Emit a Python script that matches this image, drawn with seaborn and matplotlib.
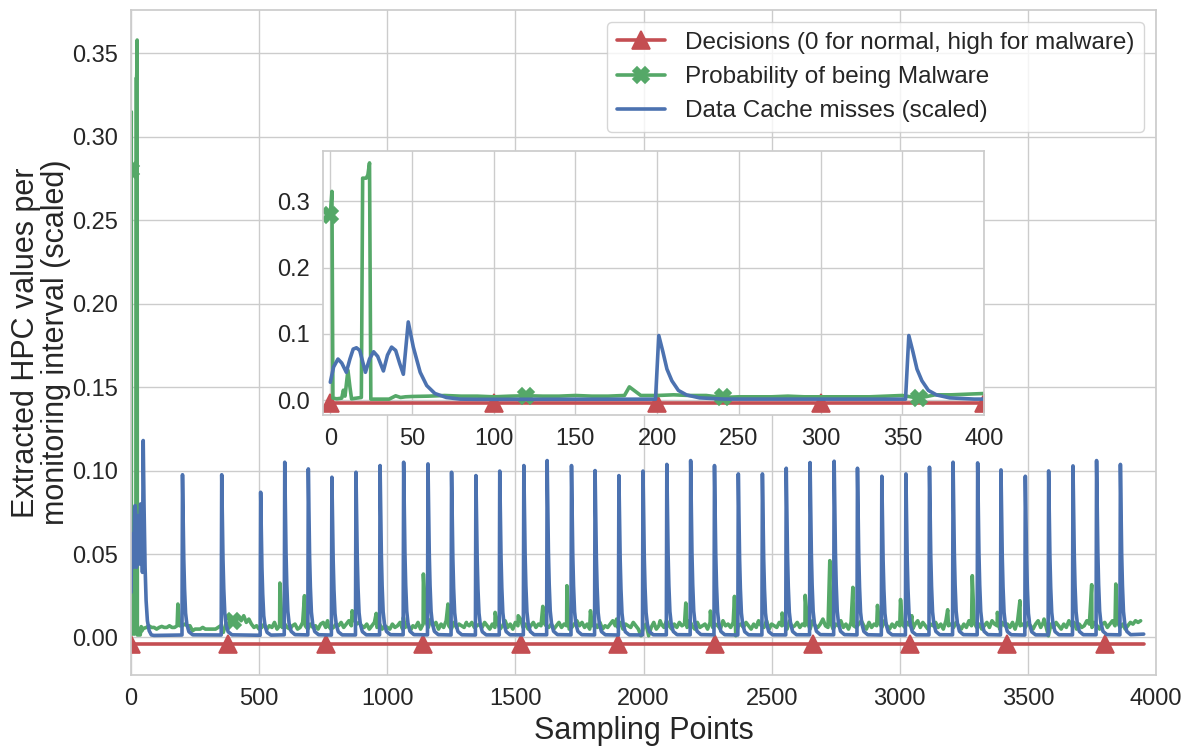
import numpy as np
import pandas as pd
import matplotlib
matplotlib.use("Agg")
import matplotlib.pyplot as plt
import seaborn as sns

# ---------------- data ----------------
# Decisions line (all "normal"), drawn slightly below zero
decision_x = list(range(0, 3941, 20)) + [3952]
decision_level = -0.004

# Data Cache misses: first samples
blue_start_x = [0, 2, 4.7, 7, 9.8, 12, 14, 16, 18, 21.5, 24, 26.5, 29, 32.5,
                35, 37.5, 40, 42.5, 44.7, 47.7, 50.8, 55, 59, 64, 71, 79.5, 90]
blue_start_y = [0.027, 0.050, 0.062, 0.056, 0.042, 0.062, 0.077, 0.079, 0.075,
                0.042, 0.062, 0.073, 0.066, 0.044, 0.068, 0.080, 0.075, 0.055,
                0.039, 0.118, 0.080, 0.042, 0.022, 0.010, 0.004, 0.0015, 0.0012]
# periodic cache-miss peaks (sample index, peak height)
blue_peak_x = [201, 354, 506, 600, 692, 784, 878, 972, 1064, 1159, 1251, 1346,
               1439, 1533, 1624, 1719, 1811, 1904, 1998, 2091, 2184, 2277, 2370,
               2464, 2557, 2650, 2744, 2835, 2930, 3024, 3116, 3208, 3304, 3395,
               3490, 3581, 3676, 3768, 3861]
blue_peak_y = [0.0975, 0.0975, 0.087, 0.105, 0.101, 0.096, 0.099, 0.103, 0.105,
               0.104, 0.099, 0.097, 0.0997, 0.103, 0.106, 0.103, 0.100, 0.097,
               0.0997, 0.1037, 0.106, 0.103, 0.098, 0.098, 0.1014, 0.1048,
               0.1056, 0.1014, 0.0966, 0.098, 0.102, 0.105, 0.1046, 0.1004,
               0.0966, 0.0998, 0.1028, 0.106, 0.1037]
# shape of one peak (offset from peak, fraction of height)
peak_offsets = [-2, 0, 2.5, 5, 8, 12, 17, 25, 40]
peak_shape = [0.015, 1.0, 0.75, 0.48, 0.30, 0.15, 0.08, 0.035, 0.016]
blue_floor = 0.0012
blue_end_x = [3952]
blue_end_y = [0.002]

# Probability of being malware: first 400 samples
green_early_x = [0, 1, 1.6, 4, 7, 8, 9, 10.8, 12, 13, 16, 19, 19.8, 22, 23, 24,
                 24.8, 30, 36, 40, 43, 46, 50, 60, 70, 80, 90, 100, 110, 120,
                 130, 140, 150, 160, 170, 180, 190, 200, 210, 220, 230, 240, 250,
                 260, 270, 280, 290, 300, 310, 320, 330, 340, 350, 360, 370, 380,
                 390, 400]
green_early_y = [0.280, 0.315, 0.003, 0.002, 0.003, 0.015, 0.006, 0.045, 0.020,
                 0.002, 0.003, 0.004, 0.335, 0.335, 0.340, 0.358, 0.0015, 0.0015,
                 0.0015, 0.0065, 0.004, 0.005, 0.0055, 0.006, 0.007, 0.006, 0.006,
                 0.005, 0.006, 0.0066, 0.006, 0.006, 0.007, 0.006, 0.006, 0.007,
                 0.007, 0.007, 0.008, 0.007, 0.007, 0.004, 0.005, 0.005, 0.005,
                 0.006, 0.005, 0.005, 0.005, 0.005, 0.005, 0.006, 0.007, 0.003,
                 0.008, 0.008, 0.009, 0.010]
# later baseline, one value every 10 samples from 410 on (thousandths)
green_base_milli = [
    11, 12, 10, 13, 9, 11, 8, 6, 7, 5, 6, 8, 5, 7, 6, 9, 5, 7, 6, 8,
    6, 5, 7, 8, 5, 6, 9, 7, 5, 8, 6, 7, 5, 8, 9, 6, 7, 5, 6, 8,
    7, 9, 6, 8, 10, 7, 11, 8, 9, 7, 6, 8, 5, 7, 9, 6, 8, 5, 7, 6,
    5, 8, 6, 7, 9, 5, 6, 8, 4, 7, 6, 9, 5, 8, 10, 6, 11, 7, 9, 5,
    8, 6, 10, 7, 5, 9, 6, 8, 7, 6, 8, 7, 9, 6, 7, 8, 6, 9, 7, 5,
    8, 6, 9, 5, 7, 10, 6, 8, 5, 9, 7, 11, 6, 8, 5, 7, 9, 6, 8, 7,
    9, 7, 6, 8, 5, 7, 9, 6, 8, 7, 5, 6, 8, 10, 7, 9, 6, 8, 5, 7,
    8, 6, 9, 5, 7, 6, 8, 10, 7, 6, 9, 5, 8, 7, 6, 9, 7, 5, 1, 6,
    8, 1, 6, 9, 5, 7, 8, 6, 10, 7, 5, 8, 6, 9, 7, 8, 6, 10, 7, 5,
    9, 6, 7, 8, 5, 9, 6, 8, 7, 5, 10, 7, 8, 6, 9, 1, 7, 8, 6, 9,
    7, 5, 8, 6, 9, 7, 6, 10, 5, 8, 7, 6, 9, 7, 8, 5, 10, 6, 7, 9,
    6, 8, 7, 9, 5, 10, 7, 6, 8, 11, 7, 6, 9, 5, 8, 7, 10, 6, 8, 5,
    9, 7, 6, 8, 10, 7, 5, 9, 6, 8, 7, 9, 6, 10, 7, 5, 8, 6, 9, 7,
    8, 6, 9, 7, 5, 8, 10, 6, 9, 7, 5, 8, 7, 9, 6, 8, 5, 10, 7, 8,
    6, 9, 7, 5, 8, 6, 10, 7, 9, 6, 8, 5, 7, 9, 6, 10, 8, 7, 5, 9,
    7, 8, 6, 9, 5, 10, 7, 8, 6, 9, 7, 5, 8, 10, 6, 9, 7, 1, 8, 6,
    9, 7, 5, 8, 6, 10, 7, 9, 5, 8, 6, 7, 10, 8, 6, 9, 7, 5, 8, 9,
    6, 8, 10, 7, 9, 6, 8, 5, 7, 9, 8, 10, 9, 10]
green_base_start = 410
green_base_step = 10
# isolated probability spikes (sample index, value)
green_spike_x = [183, 581, 677, 767, 863, 957, 1063, 1141, 1237, 1309, 1421,
                 1511, 1607, 1701, 1793, 1895, 2065, 2165, 2261, 2355, 2449,
                 2541, 2631, 2727, 2817, 2913, 3003, 3047, 3187, 3283, 3381,
                 3469, 3563, 3749, 3843]
green_spike_y = [0.020, 0.0326, 0.025, 0.010, 0.016, 0.0144, 0.012, 0.038,
                 0.020, 0.009, 0.015, 0.013, 0.0186, 0.031, 0.016, 0.011, 0.010,
                 0.0206, 0.0158, 0.0246, 0.010, 0.0146, 0.0252, 0.046, 0.030,
                 0.0192, 0.0227, 0.013, 0.0166, 0.037, 0.015, 0.022, 0.011,
                 0.0316, 0.032]

main_green_marks = [0, 400]
inset_green_marks = [0, 120, 240, 360]
main_decision_mark_step = 380
inset_decision_mark_step = 100

labels = ["Decisions (0 for normal, high for malware)",
          "Probability of being Malware",
          "Data Cache misses (scaled)"]
x_label = "Sampling Points"
y_label = "Extracted HPC values per\nmonitoring interval (scaled)"

# ---------------- assemble series ----------------
bx = list(blue_start_x)
by = list(blue_start_y)
for px, ph in zip(blue_peak_x, blue_peak_y):
    for off, fr in zip(peak_offsets, peak_shape):
        bx.append(px + off)
        by.append(max(blue_floor, ph * fr))
bx += blue_end_x
by += blue_end_y
blue_df = pd.DataFrame({"x": bx, "y": by}).sort_values("x")

gx = list(green_early_x)
gy = list(green_early_y)
for i, v in enumerate(green_base_milli):
    gx.append(green_base_start + i * green_base_step)
    gy.append(v / 1000.0)
gx += green_spike_x
gy += green_spike_y
green_df = pd.DataFrame({"x": gx, "y": gy}).sort_values("x").reset_index(drop=True)

dec_df = pd.DataFrame({"x": decision_x, "y": [decision_level] * len(decision_x)})

def idx_of(xs):
    arr = green_df["x"].to_numpy()
    return [int(np.argmin(np.abs(arr - v))) for v in xs]

def dec_marks(step):
    arr = dec_df["x"].to_numpy()
    return [i for i, v in enumerate(arr) if v % step == 0]

# ---------------- style ----------------
sns.set_theme(style="whitegrid")
plt.rcParams["font.family"] = ["Liberation Sans", "DejaVu Sans"]
C_R, C_G, C_B = "#C44E52", "#55A868", "#4C72B0"
LW = 2.6

fig = plt.figure(figsize=(11.93, 7.47), dpi=100)
ax = fig.add_axes([0.1098, 0.0964, 0.8592, 0.8902])
axin = fig.add_axes([0.2707, 0.4444, 0.5541, 0.3535])

def draw(a, dec_step, green_marks, with_label):
    sns.lineplot(data=dec_df, x="x", y="y", ax=a, color=C_R,
                 marker="^", markersize=13, markeredgewidth=1.2,
                 markeredgecolor=C_R,
                 markevery=dec_marks(dec_step), estimator=None, sort=False,
                 label=labels[0] if with_label else None, legend=False)
    sns.lineplot(data=green_df, x="x", y="y", ax=a, color=C_G,
                 marker="X", markersize=12, markeredgewidth=1.2,
                 markeredgecolor=C_G,
                 markevery=idx_of(green_marks), estimator=None, sort=False,
                 label=labels[1] if with_label else None, legend=False)
    sns.lineplot(data=blue_df, x="x", y="y", ax=a, color=C_B,
                 estimator=None, sort=False,
                 label=labels[2] if with_label else None, legend=False)
    for ln in a.get_lines():
        ln.set_linewidth(LW)
        ln.set_solid_joinstyle("round")

draw(ax, main_decision_mark_step, main_green_marks, True)
draw(axin, inset_decision_mark_step, inset_green_marks, False)

ylim = (-0.0225, 0.376)
ax.set_xlim(0, 4000)
ax.set_ylim(*ylim)
ax.set_xticks(range(0, 4001, 500))
ax.set_yticks([0.00, 0.05, 0.10, 0.15, 0.20, 0.25, 0.30, 0.35])
ax.set_yticklabels([f"{v:.2f}" for v in ax.get_yticks()])
ax.tick_params(labelsize=17)
ax.set_xlabel(x_label, fontsize=22)
ax.set_ylabel(y_label, fontsize=22, linespacing=1.0)
ax.yaxis.set_label_coords(-0.059, 0.5)
for s in ax.spines.values():
    s.set_color("0.8")

axin.set_xlim(-4.5, 400)
axin.set_ylim(*ylim)
axin.set_xticks(range(0, 401, 50))
axin.set_yticks([0.0, 0.1, 0.2, 0.3])
axin.set_yticklabels([f"{v:.1f}" for v in axin.get_yticks()])
axin.tick_params(labelsize=17)
axin.set_xlabel("")
axin.set_ylabel("")
for s in axin.spines.values():
    s.set_color("0.8")

h, l = ax.get_legend_handles_labels()
ax.legend(h, l, loc="upper right", fontsize=17.5, frameon=True,
          facecolor="white", edgecolor="0.8")

fig.savefig("out.png", dpi=100)
